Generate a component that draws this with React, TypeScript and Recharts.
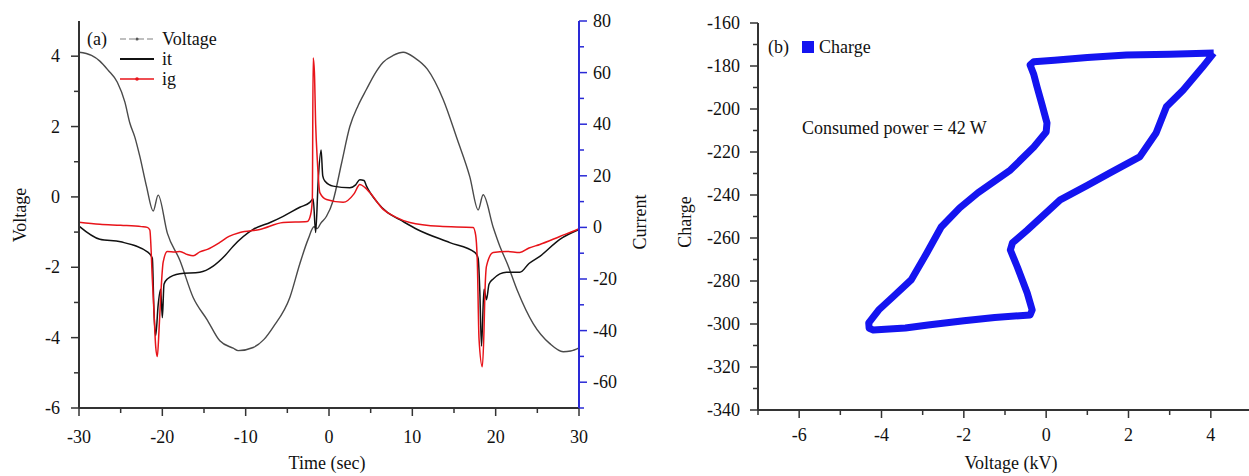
import React from "react";
import { LineChart, Line, XAxis, YAxis } from "recharts";

const FONT = '"Liberation Serif", "Times New Roman", serif';

// ---- panel (a): voltage / currents vs time
const voltT = [-30, -28.5, -27.5, -26.5, -25.4, -24.5, -23.9, -23.3, -22.7, -21.9, -21.1, -20.5, -19.4, -17.9, -16.3, -14.6, -13.1, -11.5, -10.9, -9.1, -7.8, -6.7, -4.7, -3.5, -2.5, -1.8, -1.4, -1.0, -0.3, 0.5, 1.5, 2.5, 3.5, 4.5, 5.5, 6.5, 7.7, 8.9, 10.3, 11.8, 13.7, 15.4, 16.9, 17.9, 18.5, 19.7, 20.5, 21.4, 22.6, 24.5, 26.5, 28.1, 29, 30];
const voltV = [4.11, 4.02, 3.86, 3.6, 3.26, 2.7, 2.1, 1.7, 1.15, 0.3, -0.4, 0.05, -1.03, -1.8, -2.86, -3.5, -4.09, -4.3, -4.37, -4.28, -4.05, -3.7, -2.86, -1.9, -1.2, -0.85, -0.9, -0.75, -0.55, -0.1, 0.95, 2.0, 2.6, 3.06, 3.5, 3.83, 4.02, 4.11, 3.95, 3.63, 2.77, 1.63, 0.57, -0.37, 0.06, -0.86, -1.4, -1.9, -2.66, -3.6, -4.17, -4.4, -4.38, -4.29];

const itT = [-30, -27.5, -25, -21.7, -21.2, -21.0, -20.8, -20.5, -20.2, -20.0, -19.8, -19.4, -17.9, -15.5, -13.9, -12.5, -11.5, -9.1, -7, -5.5, -3.5, -2.3, -1.9, -1.6, -1.3, -0.95, -0.75, -0.5, 0.5, 2.5, 3.2, 3.7, 4.2, 4.5, 5.8, 7, 8.5, 10.6, 14.5, 17.5, 17.9, 18.1, 18.3, 18.6, 18.9, 19.2, 19.7, 21.3, 22.9, 24, 25.3, 27.7, 30];
const itI = [0.5, -4.6, -5.6, -9.7, -12, -33, -42, -30, -24, -35, -22, -20, -18, -17.4, -15, -11, -7.3, -0.8, 2, 4.3, 7.8, 9.7, 11, -2, 18, 30, 20, 18, 16, 15.4, 16.5, 18.5, 18.2, 16, 9.7, 5.8, 3, -0.8, -5.9, -9.7, -12, -25, -46, -24, -28, -22, -20, -17.4, -17.4, -14, -11.2, -4.6, -0.8];

const igT = [-30, -27.5, -25, -22.5, -21.8, -21.5, -21.2, -21.0, -20.8, -20.6, -20.4, -20.2, -19.9, -19.4, -18.5, -17.9, -17, -16.3, -15.5, -14.6, -13.1, -12, -10.7, -8.3, -5.5, -2.6, -2.2, -2.0, -1.9, -1.75, -1.6, -1.4, -1.1, -0.3, 1.7, 3.0, 3.7, 4.3, 4.9, 6.5, 8, 9.7, 13.3, 17.3, 17.6, 17.8, 18.0, 18.4, 18.6, 18.7, 18.9, 19.7, 21.3, 22.9, 24, 25.3, 27.7, 29.8, 30];
const igI = [2, 1.2, 0.8, 0.3, 0, -1, -20, -33, -46, -50, -40, -27, -13.5, -9.3, -9.5, -9.3, -10.5, -11, -9.5, -8.5, -5.8, -3.5, -2, -0.8, 1.9, 2.3, 5, 10.8, 65.7, 60, 40, 26, 13.5, 10.8, 9.7, 13, 16.6, 15.5, 13.5, 7, 4, 1.9, 0.4, 0, -3, -13.5, -43, -54, -40, -26.7, -15, -9.7, -9.3, -9.7, -8, -6.6, -3.5, -0.8, -0.5];

const timeTicks = [-30, -25, -20, -15, -10, -5, 0, 5, 10, 15, 20, 25, 30];
const voltTicks = [-6, -5, -4, -3, -2, -1, 0, 1, 2, 3, 4];
const currentTicks = [-70, -60, -50, -40, -30, -20, -10, 0, 10, 20, 30, 40, 50, 60, 70, 80];

// ---- panel (b): charge vs voltage loop
const loopV = [4.07, 3.0, 1.95, 1.0, 0.2, -0.3, -0.39, -0.3, -0.22, -0.1, 0.02, 0, -0.3, -0.87, -1.66, -2.1, -2.55, -2.9, -3.28, -3.7, -4.07, -4.31, -4.3, -4.2, -3.42, -2.87, -2.0, -1.25, -0.39, -0.34, -0.46, -0.7, -0.87, -0.82, -0.46, 0.34, 1.0, 1.54, 2.27, 2.67, 2.92, 3.33, 3.8, 4.07];
const loopQ = [-174, -174.5, -174.9, -176, -177.3, -178, -179.5, -184, -189.8, -198, -206.5, -210.7, -217.7, -228.4, -239, -246, -254.9, -267, -279.5, -287, -293.5, -299.5, -302, -302.8, -301.9, -300.5, -298.5, -297, -295.8, -293.5, -285.6, -273.5, -265.6, -262.3, -256.3, -242.3, -235.5, -229.8, -222.3, -211.2, -199, -191.2, -180.5, -174];

const kvTicks = [-7, -6, -5, -4, -3, -2, -1, 0, 1, 2, 3, 4, 5];
const chargeTicks = [-340, -330, -320, -310, -300, -290, -280, -270, -260, -250, -240, -230, -220, -210, -200, -190, -180, -170, -160];

const zip = (xs: number[], ys: number[]) => xs.map((x, i) => ({ x, y: ys[i] }));

type Side = "bottom" | "top" | "left" | "right";

function makeTick(side: Side, inward: boolean, isMajor: (v: number) => boolean, label: boolean, off: number, color = "#333") {
  return (props: any) => {
    const { x, y, payload } = props;
    const v = payload.value;
    const major = isMajor(v);
    const len = major ? 8 : 5;
    let dx = 0;
    let dy = 0;
    if (side === "bottom") dy = inward ? -1 : 1;
    if (side === "top") dy = inward ? 1 : -1;
    if (side === "left") dx = inward ? 1 : -1;
    if (side === "right") dx = inward ? -1 : 1;
    let txt = null;
    if (label && major) {
      const common = { fontFamily: FONT, fontSize: 18, fill: "#111" };
      if (side === "bottom") txt = <text x={x} y={y + off} textAnchor="middle" {...common}>{v}</text>;
      if (side === "left") txt = <text x={x - off} y={y + 6} textAnchor="end" {...common}>{v}</text>;
      if (side === "right") txt = <text x={x + off} y={y + 6} textAnchor="start" {...common}>{v}</text>;
    }
    return (
      <g>
        <line x1={x} y1={y} x2={x + dx * len} y2={y + dy * len} stroke={color} strokeWidth={1.5} />
        {txt}
      </g>
    );
  };
}

const even10 = (v: number) => v % 10 === 0;
const even2 = (v: number) => v % 2 === 0;
const even20 = (v: number) => v % 20 === 0;

const abs = (left: number, top: number, extra: React.CSSProperties = {}): React.CSSProperties => ({
  position: "absolute",
  left,
  top,
  fontFamily: FONT,
  fontSize: 18,
  lineHeight: "18px",
  color: "#111",
  whiteSpace: "nowrap",
  ...extra,
});

const rot = (cx: number, cy: number): React.CSSProperties => ({
  ...abs(cx, cy),
  transform: "translate(-50%, -50%) rotate(-90deg)",
});

export default function App() {
  const axisStroke = { stroke: "#333", strokeWidth: 2 };
  return (
    <div style={{ position: "fixed", left: 0, top: 0, width: 1249, height: 476, overflow: "hidden", background: "#fff" }}>
      <div style={{ position: "absolute", left: 0, top: 0 }}>
        <LineChart width={640} height={476} margin={{ top: 21, right: 20, bottom: 38, left: 34 }}>
          <XAxis xAxisId="b" type="number" dataKey="x" domain={[-30, 30]} ticks={timeTicks} interval={0}
            height={30} tickSize={0} tickMargin={0} axisLine={axisStroke} tickLine={false}
            tick={makeTick("bottom", false, even10, true, 35)} />
          <XAxis xAxisId="t" orientation="top" type="number" dataKey="x" domain={[-30, 30]} ticks={timeTicks} interval={0}
            height={0} tickSize={0} tickMargin={0} axisLine={axisStroke} tickLine={false}
            tick={makeTick("top", true, even10, false, 0)} />
          <YAxis yAxisId="v" type="number" domain={[-6, 5]} ticks={voltTicks} interval={0} width={45}
            tickSize={0} tickMargin={0} axisLine={axisStroke} tickLine={false}
            tick={makeTick("left", false, even2, true, 19)} />
          <YAxis yAxisId="c" orientation="right" type="number" domain={[-70, 80]} ticks={currentTicks} interval={0} width={41}
            tickSize={0} tickMargin={0} axisLine={{ stroke: "#2a2ad6", strokeWidth: 2 }} tickLine={false}
            tick={makeTick("right", false, even20, true, 14, "#2a2ad6")} />
          <Line xAxisId="b" yAxisId="v" data={zip(voltT, voltV)} dataKey="y" type="monotone" stroke="#4a4a4a"
            strokeWidth={1.4} dot={false} isAnimationActive={false} />
          <Line xAxisId="b" yAxisId="c" data={zip(itT, itI)} dataKey="y" type="monotone" stroke="#111"
            strokeWidth={1.5} dot={false} isAnimationActive={false} />
          <Line xAxisId="b" yAxisId="c" data={zip(igT, igI)} dataKey="y" type="monotone" stroke="#e8141a"
            strokeWidth={1.5} dot={false} isAnimationActive={false} />
        </LineChart>
      </div>

      <div style={{ position: "absolute", left: 640, top: 0 }}>
        <LineChart width={640} height={476} margin={{ top: 23, right: 18, bottom: 36, left: 58 }}>
          <XAxis xAxisId="b" type="number" dataKey="x" domain={[-7, 5]} ticks={kvTicks} interval={0}
            height={30} tickSize={0} tickMargin={0} axisLine={axisStroke} tickLine={false}
            tick={makeTick("bottom", false, even2, true, 31)} />
          <XAxis xAxisId="t" orientation="top" type="number" dataKey="x" domain={[-7, 5]} ticks={kvTicks} interval={0}
            height={0} tickSize={0} tickMargin={0} axisLine={axisStroke} tickLine={false}
            tick={makeTick("top", true, even2, false, 0)} />
          <YAxis yAxisId="q" type="number" domain={[-340, -160]} ticks={chargeTicks} interval={0} width={60}
            tickSize={0} tickMargin={0} axisLine={axisStroke} tickLine={false}
            tick={makeTick("left", false, even20, true, 18)} />
          <YAxis yAxisId="r" orientation="right" type="number" domain={[-340, -160]} ticks={chargeTicks} interval={0} width={10}
            tickSize={0} tickMargin={0} axisLine={false} tickLine={false}
            tick={makeTick("right", true, even20, false, 0)} />
          <Line xAxisId="b" yAxisId="q" data={zip(loopV, loopQ)} dataKey="y" type="linear" stroke="#1414f0"
            strokeWidth={7} strokeLinejoin="round" dot={false} isAnimationActive={false} />
        </LineChart>
      </div>

      {/* panel (a) labels and legend */}
      <div style={abs(87, 30)}>(a)</div>
      <svg style={{ position: "absolute", left: 118, top: 30, width: 38, height: 60 }}>
        <line x1={2} y1={9} x2={36} y2={9} stroke="#aaa" strokeWidth={1.5} strokeDasharray="6 3" />
        <circle cx={19} cy={9} r={1.6} fill="#555" />
        <line x1={2} y1={29} x2={36} y2={29} stroke="#111" strokeWidth={2} />
        <line x1={2} y1={49} x2={36} y2={49} stroke="#e8141a" strokeWidth={1.5} />
        <circle cx={19} cy={49} r={1.8} fill="#e8141a" />
      </svg>
      <div style={abs(162, 30)}>Voltage</div>
      <div style={abs(162, 50)}>it</div>
      <div style={abs(162, 70)}>ig</div>
      <div style={rot(20, 215)}>Voltage</div>
      <div style={rot(640, 222)}>Current</div>
      <div style={abs(327, 454, { transform: "translateX(-50%)" })}>Time (sec)</div>

      {/* panel (b) labels and legend */}
      <div style={abs(768, 38)}>(b)</div>
      <div style={{ position: "absolute", left: 802, top: 41, width: 12, height: 12, background: "#1414f0" }} />
      <div style={abs(819, 38)}>Charge</div>
      <div style={abs(802, 119)}>Consumed power = 42 W</div>
      <div style={rot(685, 222)}>Charge</div>
      <div style={abs(1011, 454, { transform: "translateX(-50%)" })}>Voltage (kV)</div>
    </div>
  );
}
